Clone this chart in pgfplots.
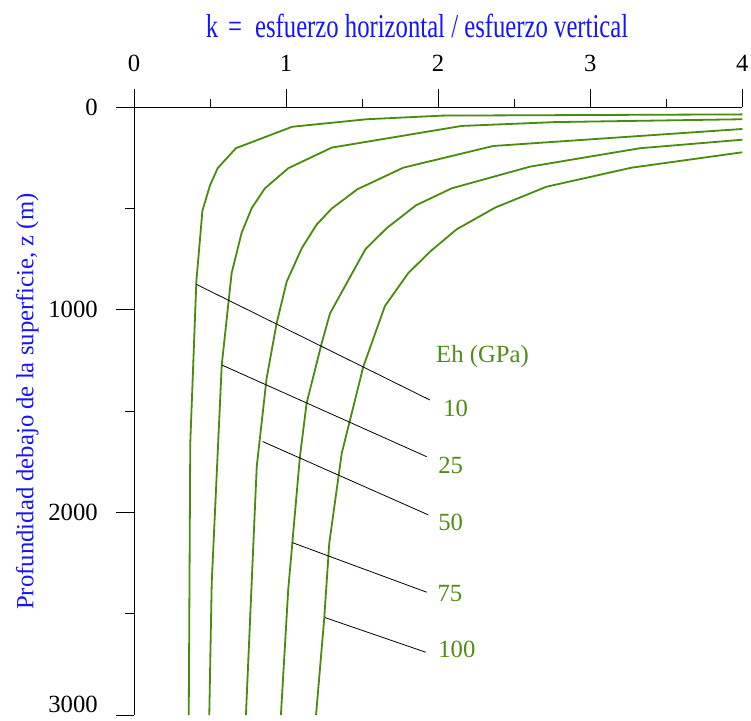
\documentclass[border=0pt]{standalone}
\usepackage{graphicx}
\usepackage{pgfplots}
\pgfplotsset{compat=1.18}
\usepackage{fontspec}
\setmainfont{Liberation Serif}
\definecolor{cgreen}{RGB}{74,138,12}
\definecolor{tgreen}{RGB}{82,140,22}
\definecolor{tblue}{RGB}{20,20,255}
\begin{document}
\fontsize{24.7}{29}\selectfont
\begin{tikzpicture}
\useasboundingbox (-134pt,-5pt) rectangle (617pt,715pt);
\begin{axis}[
  at={(0pt,0pt)}, anchor=south west,
  scale only axis, width=608.3pt, height=607.7pt,
  xmin=0, xmax=4, ymin=0, ymax=3000, y dir=reverse,
  axis x line*=top, axis y line*=left,
  axis line style={-, line width=1pt, shorten <=-18pt},
  xtick={0,1,2,3,4}, minor xtick={0.5,1.5,2.5,3.5},
  xticklabels={0,1,2,3,4},
  ytick={0,1000,2000,3000}, minor ytick={500,1500,2500},
  yticklabels={0,1000,2000,\raisebox{3pt}[0pt][0pt]{3000}},
  xticklabel shift=9pt,
  yticklabel style={anchor=east, xshift=-18pt, inner sep=0pt},
  tick align=outside,
  major tick length=18pt, minor tick length=8.5pt,
  tick style={black, line width=1pt},
  /pgf/number format/assume math mode=true,
  clip=true,
]
% Eh = 10
\addplot[cgreen, line width=1.8pt] coordinates {(4.00,35) (2.03,41) (1.53,59) (1.04,96) (0.67,202) (0.55,301) (0.50,385) (0.45,510) (0.41,860) (0.37,1658) (0.36,3000)};
% Eh = 25
\addplot[cgreen, line width=1.8pt] coordinates {(4.00,59) (2.77,73) (2.155,92) (1.30,199) (1.014,301) (0.861,400) (0.774,498) (0.708,619) (0.642,819) (0.577,1272) (0.511,2348) (0.495,3000)};
% Eh = 50
\addplot[cgreen, line width=1.8pt] coordinates {(4.00,107) (2.362,191) (1.771,298) (1.468,405) (1.30,500) (1.20,580) (1.103,696) (1.004,861) (0.938,1066) (0.872,1338) (0.807,1774) (0.736,3000)};
% Eh = 75
\addplot[cgreen, line width=1.8pt] coordinates {(4.00,160) (3.327,202) (2.604,293) (2.089,400) (1.854,484) (1.661,597) (1.523,699) (1.289,1017) (1.234,1165) (1.135,1461) (1.091,1725) (1.041,2152) (1.014,2382) (0.966,3000)};
% Eh = 100
\addplot[cgreen, line width=1.8pt] coordinates {(4.00,222) (3.272,298) (2.713,392) (2.378,494) (2.122,602) (1.946,713) (1.803,819) (1.65,981) (1.508,1280) (1.366,1708) (1.284,2152) (1.251,2522) (1.197,3000)};
% leader lines
\addplot[black, line width=0.8pt] coordinates {(0.41,874) (1.946,1445)};
\addplot[black, line width=0.8pt] coordinates {(0.577,1272) (1.925,1725)};
\addplot[black, line width=0.8pt] coordinates {(0.846,1650) (1.935,2012)};
\addplot[black, line width=0.8pt] coordinates {(1.041,2149) (1.925,2394)};
\addplot[black, line width=0.8pt] coordinates {(1.256,2519) (1.918,2690)};
% labels
\node[anchor=west, text=tgreen, inner sep=0pt] at (axis cs:1.986,1232) {Eh (GPa)};
\node[anchor=west, text=tgreen, inner sep=0pt] at (axis cs:2.033,1484) {10};
\node[anchor=west, text=tgreen, inner sep=0pt] at (axis cs:2.0,1767) {25};
\node[anchor=west, text=tgreen, inner sep=0pt] at (axis cs:2.0,2048) {50};
\node[anchor=west, text=tgreen, inner sep=0pt] at (axis cs:1.995,2402) {75};
\node[anchor=west, text=tgreen, inner sep=0pt] at (axis cs:2.0,2674) {100};
\end{axis}
\node[anchor=base, text=tblue, inner sep=0pt] at (283pt,677.5pt) {\scalebox{1}[1.35]{k\hspace{10pt}=\hspace{13pt}esfuerzo horizontal / esfuerzo vertical}};
\node[rotate=90, anchor=base, text=tblue, inner sep=0pt] at (-100.7pt,313.4pt) {Profundidad debajo de la superficie, z (m)};
\end{tikzpicture}
\end{document}
